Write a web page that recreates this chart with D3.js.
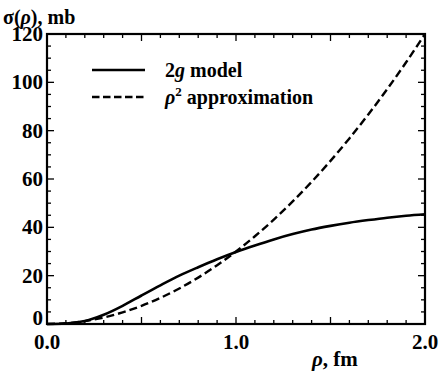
<!DOCTYPE html>
<html><head><meta charset="utf-8">
<script src="https://cdn.jsdelivr.net/npm/d3@7"></script>
<style>
body{margin:0;background:#fff}
svg{display:block}
</style>
</head><body><svg id="c" width="440" height="383"></svg>
<script>
const rho = [0,0.1,0.2,0.3,0.4,0.5,0.6,0.7,0.8,0.9,1.0,1.1,1.2,1.3,1.4,1.5,1.6,1.7,1.8,1.9,2.0];
const model2g = [0,0.2,1.2,3.8,7.5,11.8,16,20,23.5,26.8,29.8,32.5,35,37.2,39.1,40.6,41.9,43,44,44.8,45.4];
const rho2approx = [0,0.3,1.2,2.7,4.8,7.5,10.8,14.7,19.2,24.3,30,36.3,43.2,50.7,58.8,67.5,76.8,86.7,97.2,108.3,120];
const xTickLabels = ["0.0","1.0","2.0"];
const yTickLabels = ["0","20","40","60","80","100","120"];

const svg = d3.select("#c");
const L=47, R=425, T=34, B=324;
const x = d3.scaleLinear().domain([0,2]).range([L,R]);
const y = d3.scaleLinear().domain([0,120]).range([B,T]);

const xMinor = d3.range(0,2.0001,0.1);
const yMinor = d3.range(0,120.001,5);
const g = svg.append("g").attr("stroke","#000").attr("stroke-width",1.3);
xMinor.forEach(v=>{
  const r10 = Math.round(v*10);
  const len = (r10%5===0)?7:4;
  g.append("line").attr("x1",x(v)).attr("x2",x(v)).attr("y1",B).attr("y2",B-len);
  g.append("line").attr("x1",x(v)).attr("x2",x(v)).attr("y1",T).attr("y2",T+len);
});
yMinor.forEach(v=>{
  const len = (Math.round(v)%20===0)?7:4;
  g.append("line").attr("y1",y(v)).attr("y2",y(v)).attr("x1",L).attr("x2",L+len);
  g.append("line").attr("y1",y(v)).attr("y2",y(v)).attr("x1",R).attr("x2",R-len);
});
svg.append("rect").attr("x",L).attr("y",T).attr("width",R-L).attr("height",B-T)
  .attr("fill","none").attr("stroke","#000").attr("stroke-width",2.2);

function txt(xp,yp,size){
  return svg.append("text").attr("x",xp).attr("y",yp)
    .attr("font-family","Liberation Serif")
    .attr("font-weight","bold").attr("font-size",size).attr("fill","#000");
}
xTickLabels.forEach(t=>{
  txt(x(+t),349,21).attr("text-anchor","middle").text(t);
});
yTickLabels.forEach(t=>{
  const v=+t;
  txt(43,y(v)+(v===0?1:7),21).attr("text-anchor","end").text(t);
});

const line = d3.line().x((d,i)=>x(rho[i])).y(d=>y(d)).curve(d3.curveMonotoneX);
svg.append("path").datum(model2g).attr("d",line).attr("fill","none").attr("stroke","#000").attr("stroke-width",2.6);
svg.append("path").datum(rho2approx).attr("d",line).attr("fill","none").attr("stroke","#000").attr("stroke-width",2.4).attr("stroke-dasharray","8,4");

svg.append("line").attr("x1",92).attr("x2",145).attr("y1",70).attr("y2",70).attr("stroke","#000").attr("stroke-width",2.6);
svg.append("line").attr("x1",92).attr("x2",145).attr("y1",97).attr("y2",97).attr("stroke","#000").attr("stroke-width",2.4).attr("stroke-dasharray","7.5,3.5");
const t1 = txt(165,77,20);
t1.append("tspan").text("2");
t1.append("tspan").attr("font-style","italic").text("g");
t1.append("tspan").text(" model");
const t2 = txt(165,104,20);
t2.append("tspan").attr("font-style","italic").text("ρ");
t2.append("tspan").attr("font-size",13).attr("dy",-8).text("2");
t2.append("tspan").attr("dy",8).text(" approximation");

const yt = txt(3,24,20);
yt.append("tspan").text("σ(");
yt.append("tspan").attr("font-style","italic").text("ρ");
yt.append("tspan").text("), mb");
const xt = txt(312,366,21);
xt.append("tspan").attr("font-style","italic").text("ρ");
xt.append("tspan").text(", fm");
</script></body></html>
